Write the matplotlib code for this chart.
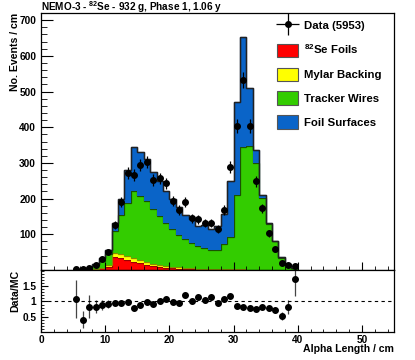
import numpy as np
import matplotlib.pyplot as plt
from matplotlib.ticker import MultipleLocator, FixedLocator
from matplotlib.legend_handler import HandlerErrorbar
from matplotlib.container import ErrorbarContainer

plt.rcParams['font.family'] = ['Liberation Sans', 'DejaVu Sans']
plt.rcParams['font.weight'] = 'bold'
plt.rcParams['mathtext.fontset'] = 'custom'
plt.rcParams['mathtext.rm'] = 'Liberation Sans:bold'
plt.rcParams['mathtext.default'] = 'rm'

# bins of 1 cm, left edges 5..39
edges = np.arange(5, 41)
centers = edges[:-1] + 0.5

# MC components (events / cm)
se82 = [0, 0.3, 0.8, 2, 5, 9, 37, 33, 28, 23, 19, 15, 12, 9, 7, 5, 4, 3, 2.5, 2,
        1.5, 1.2, 1, 1, 0.8, 0.6, 0.5, 0.4, 0.3, 0.2, 0.1, 0, 0, 0, 0]
mylar = [0, 0, 0.2, 1, 2, 6, 12, 11, 10, 10, 8, 7, 6, 6, 5, 4, 4, 3, 3, 2,
         2, 2, 1.5, 1.5, 1.5, 1.5, 1.5, 1, 1, 0.5, 0.3, 0, 0, 0, 0]
wires = [2.5, 4.2, 4.5, 11, 18, 30, 60, 110, 149, 188, 180, 171, 152, 136, 119, 105, 90, 80, 71.5, 62,
         58.5, 53.8, 53.5, 70.5, 90.7, 208, 343, 346.6, 297.7, 200.3, 129.6, 80, 35, 16.5, 5.8]
surf = [0.3, 0.5, 0.5, 4, 10, 10, 22, 46, 92, 124, 123, 117, 105, 99, 91, 84, 78, 69, 67, 58,
        64, 58, 66, 84, 155, 260, 307, 163, 36, 10, 2, 2, 1, 0.5, 0]

data = [3, 2, 5, 15, 31, 51, 126, 190, 271, 266, 294, 303, 252, 257, 243, 193, 168, 190, 145, 142,
        131, 132, 115, 168, 289, 404, 532, 404, 248, 173, 103, 58, 19, 14, 10]

comps = [(se82, '$^{82}$Se Foils', '#ff0000', '#990000'),
         (mylar, 'Mylar Backing', '#ffff00', '#8a8a00'),
         (wires, 'Tracker Wires', '#33cc00', '#1a5200'),
         (surf, 'Foil Surfaces', '#0a64c8', '#0a2a50')]

fig = plt.figure(figsize=(4.15, 3.6), dpi=100)
ax = fig.add_axes([41/415, 90/360, 353/415, 257/360])
rax = fig.add_axes([41/415, 28/360, 353/415, 62/360])

bottom = np.zeros(len(centers))
handles = []
for vals, lab, fc, ec in comps:
    top = bottom + np.array(vals)
    ax.stairs(top, edges, baseline=bottom, fill=True, facecolor=fc, lw=0)
    ax.stairs(top, edges, baseline=None, color=ec, lw=0.9)
    handles.append(plt.Rectangle((0, 0), 1, 1, facecolor=fc, edgecolor='#555555', lw=0.8, label=lab))
    bottom = top
mc = bottom
ax.stairs(mc, edges, baseline=None, color='#222222', lw=1.0)

data = np.array(data, dtype=float)
eb = ax.errorbar(centers, data, yerr=np.sqrt(data), xerr=np.zeros(len(data)), fmt='o', ms=4,
                 color='black', ecolor='black', elinewidth=0.9, capsize=0,
                 label='Data (%d)' % 5953)

ax.set_xlim(0, 55)
ax.set_ylim(0, 720)
ax.yaxis.set_major_locator(FixedLocator([100, 200, 300, 400, 500, 600, 700]))
ax.yaxis.set_minor_locator(MultipleLocator(20))
ax.xaxis.set_major_locator(MultipleLocator(10))
ax.xaxis.set_minor_locator(MultipleLocator(2))
ax.tick_params(axis='y', which='major', direction='in', length=8.5, width=0.8, labelsize=7.3)
ax.tick_params(axis='y', which='minor', direction='in', length=4.5, width=0.6)
ax.tick_params(axis='x', which='major', direction='in', length=6, width=0.8, labelbottom=False)
ax.tick_params(axis='x', which='minor', direction='in', length=3, width=0.6)

ax.legend([eb] + handles, ['Data (5953)'] + [h.get_label() for h in handles],
          handler_map={ErrorbarContainer: HandlerErrorbar(xerr_size=1.0, yerr_size=1.0)},
          loc='upper left', bbox_to_anchor=(0.655, 0.995), frameon=False,
          fontsize=8.2, handlelength=1.9, handleheight=1.45, handletextpad=0.5,
          labelspacing=0.9, borderaxespad=0)

ratio = data / mc
rerr = np.sqrt(data) / mc
rax.errorbar(centers, ratio, yerr=rerr, fmt='o', ms=4, color='black', ecolor='#444444',
             elinewidth=0.9, capsize=0)
rax.axhline(1, color='black', lw=0.8, ls=(0, (3, 3)))
rax.set_xlim(0, 55)
rax.set_ylim(0, 2.03)
rax.yaxis.set_major_locator(FixedLocator([0.5, 1, 1.5]))
rax.yaxis.set_minor_locator(MultipleLocator(0.1))
rax.yaxis.set_major_formatter(plt.FuncFormatter(lambda v, p: ('%g' % v)))
rax.xaxis.set_major_locator(MultipleLocator(10))
rax.xaxis.set_minor_locator(MultipleLocator(2))
rax.tick_params(which='major', direction='in', length=5, width=0.8, labelsize=7.3)
rax.tick_params(which='minor', direction='in', length=2.5, width=0.6)
rax.tick_params(axis='x', pad=2)

for a in (ax, rax):
    for s in a.spines.values():
        s.set_linewidth(0.9)

fig.text(41/415, 353/360, 'NEMO-3 - $^{82}$Se - 932 g, Phase 1, 1.06 y', fontsize=7.2,
         ha='left', va='center')
fig.text(15/415, 347/360, 'No. Events / cm', rotation=90, ha='center', va='top', fontsize=7.6)
fig.text(15/415, 69/360, 'Data/MC', rotation=90, ha='center', va='center', fontsize=7.6)
fig.text(394/415, 11/360, 'Alpha Length / cm', ha='right', va='center', fontsize=7.6)

fig.savefig('out.png', dpi=100)
